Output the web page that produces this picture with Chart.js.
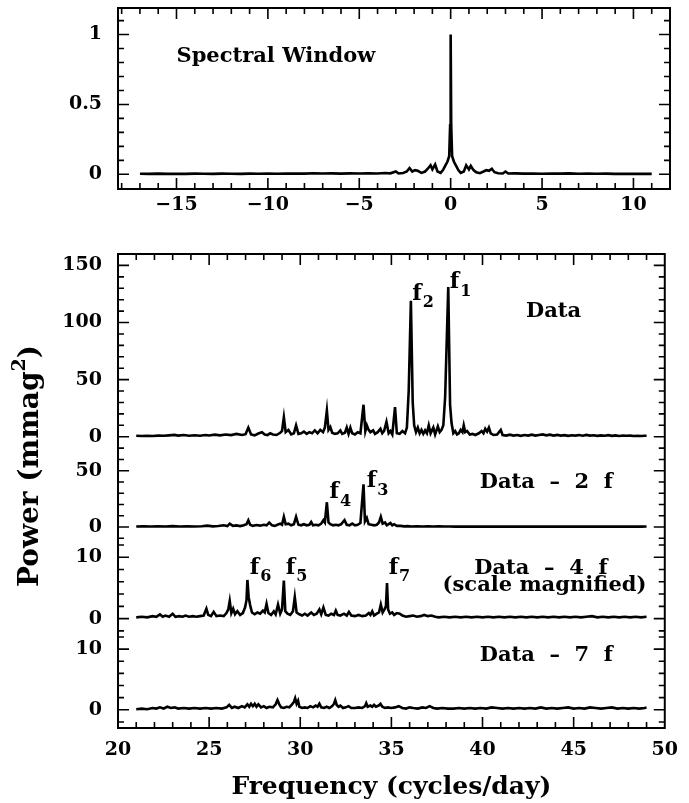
<!DOCTYPE html>
<html>
<head>
<meta charset="utf-8">
<script src="https://cdn.jsdelivr.net/npm/chart.js@4"></script>
<style>
  body { margin: 0; background: #fff; }
  #wrap { position: relative; width: 689px; height: 803px; }
  canvas { position: absolute; left: 0; }
</style>
</head>
<body>
<div id="wrap">
  <canvas id="windowChart" width="689" height="240" style="top:0"></canvas>
  <canvas id="powerChart" width="689" height="563" style="top:240px"></canvas>
</div>
<script>
// Spectral window, frequency (c/d) vs normalised power
const windowPoints = [
  [-17.0,0.004],[-16.5,0.003],[-16.0,0.005],[-15.5,0.003],[-15.0,0.004],[-14.5,0.003],[-14.0,0.005],
  [-13.5,0.004],[-13.0,0.003],[-12.5,0.005],[-12.0,0.004],[-11.5,0.003],[-11.0,0.005],[-10.5,0.004],
  [-10.0,0.006],[-9.5,0.004],[-9.0,0.005],[-8.5,0.006],[-8.0,0.005],[-7.5,0.008],[-7.0,0.006],
  [-6.5,0.007],[-6.0,0.005],[-5.5,0.007],[-5.0,0.006],[-4.5,0.008],[-4.0,0.006],[-3.6,0.009],
  [-3.3,0.007],[-3.0,0.02],[-2.85,0.006],[-2.6,0.01],[-2.4,0.02],[-2.25,0.045],[-2.1,0.02],
  [-1.95,0.03],[-1.8,0.025],[-1.6,0.01],[-1.4,0.02],[-1.25,0.04],[-1.1,0.065],[-1.0,0.035],
  [-0.85,0.07],[-0.72,0.02],[-0.55,0.01],[-0.42,0.03],[-0.3,0.06],[-0.18,0.09],[-0.08,0.13],
  [-0.03,0.35],[0.0,1.0],[0.03,0.35],[0.08,0.13],[0.18,0.09],[0.3,0.06],[0.42,0.03],[0.55,0.01],
  [0.72,0.02],[0.85,0.065],[1.0,0.035],[1.1,0.06],[1.25,0.03],[1.4,0.015],[1.6,0.008],[1.8,0.02],
  [1.95,0.03],[2.1,0.025],[2.25,0.04],[2.4,0.015],[2.6,0.008],[2.85,0.006],[3.0,0.02],[3.15,0.006],
  [3.5,0.007],[4.0,0.005],[4.5,0.006],[5.0,0.004],[5.5,0.006],[6.0,0.005],[6.5,0.007],[7.0,0.004],
  [7.5,0.005],[8.0,0.004],[8.5,0.005],[9.0,0.003],[9.5,0.004],[10.0,0.003],[10.5,0.004],[11.0,0.003]
];

// Amplitude spectra (mmag^2): original data, then after prewhitening 2, 4 and 7 frequencies
const dataPoints = [
  [21.0,0.8],[21.3,0.6],[21.6,0.9],[21.9,0.7],[22.2,1.0],[22.5,0.8],[22.8,1.2],[23.1,1.6],[23.3,1.0],
  [23.6,1.5],[23.9,0.9],[24.2,1.3],[24.5,0.8],[24.8,1.5],[25.0,1.1],[25.3,1.8],[25.6,1.2],[25.9,2.0],
  [26.2,1.4],[26.5,2.5],[26.8,1.5],[27.0,2.2],[27.15,8.0],[27.3,2.0],[27.5,1.2],[27.7,2.8],[27.9,4.0],
  [28.05,2.0],[28.2,1.5],[28.35,3.0],[28.5,2.0],[28.7,1.5],[28.9,3.5],[29.0,5.0],[29.1,17.0],[29.2,4.0],
  [29.35,6.0],[29.5,2.0],[29.65,3.0],[29.77,10.0],[29.9,2.5],[30.05,3.0],[30.2,4.5],[30.35,2.5],
  [30.5,4.0],[30.65,3.0],[30.8,5.5],[30.95,3.0],[31.1,6.0],[31.25,4.0],[31.35,8.0],[31.46,23.0],
  [31.55,6.0],[31.65,8.5],[31.75,3.5],[31.9,2.5],[32.05,3.0],[32.2,5.5],[32.3,2.5],[32.45,3.5],
  [32.55,8.0],[32.65,2.5],[32.75,8.0],[32.85,3.0],[33.0,2.0],[33.15,4.0],[33.3,3.0],[33.47,28.0],
  [33.57,5.0],[33.65,10.0],[33.75,6.0],[33.85,4.0],[34.0,5.5],[34.1,2.5],[34.25,4.0],[34.4,7.0],
  [34.5,3.0],[34.6,5.0],[34.73,13.0],[34.85,3.0],[34.95,5.0],[35.05,2.0],[35.2,26.0],[35.3,3.0],
  [35.45,2.5],[35.6,5.0],[35.75,3.0],[35.85,8.0],[35.95,40.0],[36.07,119.0],[36.17,30.0],[36.25,10.0],
  [36.35,4.0],[36.45,8.0],[36.55,3.0],[36.65,6.0],[36.75,2.5],[36.85,5.5],[36.95,3.0],[37.05,10.0],
  [37.15,3.0],[37.3,8.0],[37.4,2.0],[37.55,9.0],[37.65,4.0],[37.75,6.0],[37.85,10.0],[37.95,35.0],
  [38.12,131.0],[38.22,28.0],[38.3,12.0],[38.4,3.0],[38.5,5.0],[38.6,2.0],[38.7,3.0],[38.8,6.0],
  [38.9,4.0],[38.97,10.0],[39.05,4.0],[39.15,5.0],[39.3,2.0],[39.45,2.5],[39.6,1.5],[39.8,3.0],
  [39.95,5.0],[40.05,3.0],[40.15,7.0],[40.25,4.5],[40.35,8.0],[40.45,3.0],[40.6,1.5],[40.8,2.0],
  [41.0,6.0],[41.1,1.5],[41.3,1.0],[41.5,1.8],[41.7,1.0],[41.9,1.5],[42.1,0.8],[42.3,1.5],[42.5,1.0],
  [42.7,1.8],[42.9,1.0],[43.1,1.5],[43.3,2.0],[43.5,1.2],[43.7,1.8],[43.9,1.0],[44.1,1.6],[44.3,1.0],
  [44.5,1.4],[44.7,0.8],[44.9,1.3],[45.1,1.0],[45.3,1.5],[45.5,0.9],[45.7,1.6],[45.9,1.0],[46.1,1.3],
  [46.3,0.8],[46.5,1.2],[46.7,0.9],[46.9,1.4],[47.1,0.8],[47.3,1.2],[47.5,0.7],[47.7,1.1],[47.9,0.8],
  [48.1,1.0],[48.3,0.7],[48.5,0.9],[48.7,0.6],[48.9,0.9],[49.0,0.8]
];

const minus2fPoints = [
  [21.0,0.4],[21.4,0.6],[21.8,0.4],[22.2,0.7],[22.6,0.5],[23.0,0.8],[23.4,0.5],[23.8,0.7],[24.2,0.4],
  [24.6,0.6],[24.9,1.2],[25.2,0.6],[25.5,0.9],[25.8,1.5],[26.0,0.8],[26.13,3.0],[26.3,1.0],[26.5,1.4],
  [26.7,0.8],[26.9,1.5],[27.05,2.5],[27.15,6.0],[27.25,2.0],[27.4,1.0],[27.6,1.8],[27.8,1.2],[28.0,2.0],
  [28.15,1.5],[28.3,4.0],[28.45,1.5],[28.6,1.0],[28.75,2.0],[28.9,3.0],[29.0,2.0],[29.1,9.0],[29.2,2.5],
  [29.35,3.0],[29.5,1.5],[29.65,2.5],[29.77,9.0],[29.9,2.0],[30.05,1.5],[30.2,2.5],[30.35,1.5],
  [30.5,2.0],[30.6,4.5],[30.7,1.5],[30.85,2.0],[31.0,1.5],[31.15,3.0],[31.27,6.0],[31.35,4.0],
  [31.46,22.0],[31.55,4.0],[31.65,2.5],[31.8,1.5],[31.95,2.0],[32.1,1.5],[32.25,2.5],[32.43,6.0],
  [32.55,2.0],[32.7,1.5],[32.85,3.0],[33.0,1.5],[33.15,2.0],[33.3,3.5],[33.47,38.0],[33.55,5.0],
  [33.65,8.0],[33.75,2.5],[33.9,2.0],[34.05,1.5],[34.2,2.0],[34.32,4.0],[34.42,9.0],[34.52,3.0],
  [34.65,4.0],[34.75,1.5],[34.85,2.5],[34.95,3.5],[35.05,1.5],[35.15,2.5],[35.3,1.0],[35.5,1.0],
  [35.7,0.6],[35.9,0.8],[36.1,0.5],[36.4,0.7],[36.7,0.4],[37.0,0.6],[37.3,0.4],[37.6,0.6],[37.9,0.4],
  [38.2,0.5],[38.5,0.3],[38.8,0.5],[39.1,0.3],[39.4,0.5],[39.7,0.3],[40.0,0.4],[40.3,0.3],[40.6,0.5],
  [40.9,0.3],[41.2,0.4],[41.5,0.3],[41.8,0.4],[42.1,0.3],[42.4,0.5],[42.7,0.3],[43.0,0.4],[43.3,0.3],
  [43.6,0.4],[43.9,0.3],[44.2,0.4],[44.5,0.3],[44.8,0.4],[45.1,0.3],[45.4,0.4],[45.7,0.3],[46.0,0.4],
  [46.3,0.3],[46.6,0.4],[46.9,0.3],[47.2,0.4],[47.5,0.3],[47.8,0.4],[48.1,0.3],[48.4,0.4],[48.7,0.3],
  [49.0,0.4]
];

const minus4fPoints = [
  [21.0,0.2],[21.3,0.3],[21.6,0.2],[21.9,0.4],[22.1,0.3],[22.3,0.7],[22.45,0.3],[22.6,0.5],[22.8,0.3],
  [23.0,0.8],[23.15,0.3],[23.35,0.4],[23.55,0.3],[23.7,0.5],[23.9,0.3],[24.1,0.4],[24.3,0.3],[24.5,0.4],
  [24.7,0.5],[24.85,1.6],[24.95,0.6],[25.1,0.4],[25.25,1.1],[25.4,0.4],[25.6,0.5],[25.8,0.4],[25.95,0.9],
  [26.05,1.5],[26.13,2.9],[26.22,0.9],[26.32,1.6],[26.42,0.7],[26.55,1.2],[26.7,0.6],[26.85,0.9],
  [26.97,1.8],[27.05,3.0],[27.1,6.3],[27.17,3.5],[27.25,2.2],[27.35,1.0],[27.5,0.7],[27.65,1.0],
  [27.8,0.8],[27.95,1.3],[28.05,1.0],[28.15,2.4],[28.25,0.9],[28.4,0.6],[28.55,1.2],[28.65,0.7],
  [28.78,2.3],[28.9,0.8],[29.0,1.5],[29.1,6.2],[29.18,1.2],[29.3,0.8],[29.45,0.6],[29.6,1.2],[29.7,3.5],
  [29.8,1.0],[29.95,0.7],[30.1,0.5],[30.25,0.8],[30.4,0.5],[30.6,1.0],[30.75,0.6],[30.9,0.8],[31.05,1.5],
  [31.15,0.7],[31.27,1.8],[31.4,0.6],[31.55,0.5],[31.7,0.8],[31.85,0.6],[31.95,1.3],[32.05,0.6],
  [32.2,0.5],[32.4,0.8],[32.55,0.5],[32.67,1.1],[32.8,0.5],[33.0,0.4],[33.2,0.6],[33.4,0.4],[33.6,0.5],
  [33.76,0.9],[33.85,0.6],[33.95,1.2],[34.05,0.5],[34.2,0.8],[34.32,1.0],[34.42,2.3],[34.52,1.0],
  [34.62,1.5],[34.7,2.0],[34.76,5.8],[34.82,1.5],[34.92,0.8],[35.05,1.0],[35.15,0.6],[35.3,0.9],
  [35.46,0.8],[35.6,0.5],[35.8,0.3],[36.0,0.4],[36.2,0.5],[36.4,0.3],[36.6,0.4],[36.8,0.6],[37.0,0.4],
  [37.2,0.5],[37.4,0.3],[37.6,0.2],[37.9,0.3],[38.2,0.2],[38.5,0.3],[38.8,0.2],[39.1,0.3],[39.4,0.2],
  [39.7,0.3],[40.0,0.2],[40.3,0.3],[40.6,0.2],[40.9,0.3],[41.2,0.2],[41.5,0.3],[41.8,0.2],[42.1,0.3],
  [42.4,0.2],[42.7,0.3],[43.0,0.2],[43.3,0.3],[43.6,0.2],[43.9,0.3],[44.2,0.2],[44.5,0.3],[44.8,0.2],
  [45.1,0.3],[45.4,0.2],[45.7,0.3],[46.0,0.4],[46.3,0.2],[46.6,0.3],[46.9,0.2],[47.2,0.3],[47.5,0.2],
  [47.8,0.3],[48.1,0.2],[48.4,0.3],[48.7,0.2],[49.0,0.3]
];

const minus7fPoints = [
  [21.0,0.1],[21.3,0.2],[21.6,0.1],[21.9,0.3],[22.1,0.2],[22.3,0.4],[22.5,0.2],[22.7,0.5],[22.9,0.3],
  [23.1,0.4],[23.3,0.2],[23.6,0.3],[23.9,0.2],[24.2,0.3],[24.5,0.2],[24.8,0.3],[25.1,0.2],[25.4,0.3],
  [25.7,0.2],[25.95,0.4],[26.1,0.8],[26.25,0.3],[26.4,0.5],[26.6,0.3],[26.8,0.6],[26.95,0.4],[27.1,0.9],
  [27.2,0.5],[27.3,1.0],[27.4,0.6],[27.5,1.0],[27.6,0.5],[27.7,0.9],[27.85,0.4],[28.0,0.6],[28.15,0.3],
  [28.3,0.5],[28.5,0.4],[28.65,0.9],[28.75,1.6],[28.85,0.9],[28.95,0.4],[29.1,0.3],[29.25,0.5],
  [29.4,0.4],[29.55,0.9],[29.65,1.3],[29.72,1.9],[29.8,1.0],[29.88,1.5],[29.95,0.5],[30.1,0.3],
  [30.25,0.4],[30.4,0.3],[30.55,0.6],[30.7,0.4],[30.85,0.7],[30.95,0.5],[31.05,1.0],[31.15,0.4],
  [31.3,0.3],[31.45,0.5],[31.6,0.3],[31.75,0.6],[31.85,1.0],[31.92,1.6],[32.0,0.8],[32.1,0.5],
  [32.2,0.7],[32.35,0.3],[32.5,0.4],[32.65,0.6],[32.8,0.3],[33.0,0.3],[33.2,0.4],[33.4,0.3],[33.55,0.6],
  [33.62,1.1],[33.7,0.5],[33.85,0.7],[33.95,0.5],[34.05,0.8],[34.15,0.5],[34.3,0.7],[34.4,1.0],
  [34.5,0.5],[34.65,0.3],[34.8,0.4],[35.0,0.3],[35.2,0.4],[35.4,0.6],[35.6,0.3],[35.8,0.2],[36.0,0.4],
  [36.2,0.3],[36.45,0.2],[36.7,0.4],[36.9,0.3],[37.1,0.6],[37.3,0.3],[37.5,0.2],[37.8,0.3],[38.1,0.2],
  [38.4,0.2],[38.7,0.3],[39.0,0.2],[39.3,0.3],[39.6,0.2],[39.9,0.3],[40.2,0.2],[40.5,0.4],[40.8,0.3],
  [41.1,0.2],[41.4,0.3],[41.7,0.2],[42.0,0.3],[42.3,0.2],[42.6,0.3],[42.9,0.2],[43.2,0.4],[43.5,0.2],
  [43.8,0.3],[44.1,0.2],[44.4,0.3],[44.7,0.4],[45.0,0.2],[45.3,0.3],[45.6,0.2],[45.9,0.4],[46.2,0.3],
  [46.5,0.2],[46.8,0.3],[47.1,0.4],[47.4,0.2],[47.7,0.3],[48.0,0.2],[48.3,0.3],[48.6,0.2],[48.9,0.3],
  [49.0,0.4]
];

// tick labels
const windowXTicks = [-15, -10, -5, 0, 5, 10];
const windowYTicks = [0, 0.5, 1];
const freqTicks = [20, 25, 30, 35, 40, 45, 50];
const dataTicks = [0, 50, 100, 150];
const minus2fTicks = [0, 50];
const minus4fTicks = [0, 10];
const minus7fTicks = [0, 10];

const FONT = "'DejaVu Serif', serif";
const tickFont = { family: FONT, size: 19, weight: 'bold' };
const LEFT_W = 118;

const toXY = pts => pts.map(p => ({ x: p[0], y: p[1] }));
const fmt = v => String(v).replace('-', '\u2212');
const setTicks = list => axis => { axis.ticks = list.map(v => ({ value: v })); };

function lineSet(points, yAxisID) {
    return {
        data: toXY(points),
        yAxisID: yAxisID,
        borderColor: '#000',
        borderWidth: 2.6,
        pointRadius: 0,
        tension: 0,
        fill: false
    };
}

function yAxis(min, max, ticks, extra) {
    return Object.assign({
        type: 'linear',
        position: 'left',
        min: min,
        max: max,
        grid: { display: false, drawTicks: false },
        border: { display: false },
        ticks: { font: tickFont, color: '#000', padding: 16, callback: fmt },
        afterBuildTicks: setTicks(ticks),
        afterFit: s => {
            // fixed gutter, and no extra room for the end labels
            s.width = LEFT_W;
            s.paddingTop = 0;
            s.paddingBottom = 0;
        }
    }, extra || {});
}

function xAxis(min, max, ticks, height, pad) {
    return {
        type: 'linear',
        position: 'bottom',
        min: min,
        max: max,
        grid: { display: false, drawTicks: false },
        border: { display: false },
        ticks: { font: tickFont, color: '#000', padding: pad, maxRotation: 0, callback: fmt },
        afterBuildTicks: setTicks(ticks),
        afterFit: s => { s.height = height; }
    };
}

// box round the plot area with inward ticks on all four sides
function framePlugin(xSpec, ySpecs, labels, extra) {
    return {
        id: 'frame',
        afterDatasetsDraw(chart) {
            const ctx = chart.ctx;
            const a = chart.chartArea;
            ctx.save();
            ctx.strokeStyle = '#000';
            ctx.fillStyle = '#000';
            ctx.lineWidth = 2;
            ctx.strokeRect(a.left, a.top, a.right - a.left, a.bottom - a.top);

            const marks = (scale, spec, draw) => {
                const lo = Math.ceil(scale.min / spec.minor - 1e-6);
                const hi = Math.floor(scale.max / spec.minor + 1e-6);
                for (let k = lo; k <= hi; k++) {
                    const v = k * spec.minor;
                    const r = v / spec.major;
                    const major = Math.abs(r - Math.round(r)) < 1e-6;
                    const p = scale.getPixelForValue(v);
                    draw(p, major ? 11 : 6);
                }
            };

            ctx.lineWidth = 1.6;
            ctx.beginPath();
            const xs = chart.scales[xSpec.id];
            marks(xs, xSpec, (p, len) => {
                if (p <= a.left + 1 || p >= a.right - 1) return;
                ctx.moveTo(p, a.bottom); ctx.lineTo(p, a.bottom - len);
                ctx.moveTo(p, a.top); ctx.lineTo(p, a.top + len);
            });
            ySpecs.forEach(spec => {
                const ys = chart.scales[spec.id];
                marks(ys, spec, (p, len) => {
                    if (p <= a.top + 1 || p >= a.bottom - 1) return;
                    ctx.moveTo(a.left, p); ctx.lineTo(a.left + len, p);
                    ctx.moveTo(a.right, p); ctx.lineTo(a.right - len, p);
                });
            });
            ctx.stroke();

            // text inside the panels
            labels.forEach(lb => {
                const px = xs.getPixelForValue(lb.x);
                const py = chart.scales[lb.axis].getPixelForValue(lb.y);
                ctx.font = 'bold ' + (lb.size || 21) + 'px ' + FONT;
                ctx.textAlign = lb.align || 'center';
                ctx.textBaseline = 'middle';
                ctx.fillText(lb.text, px, py);
                if (lb.sub) {
                    const w = ctx.measureText(lb.text).width;
                    ctx.font = 'bold 16px ' + FONT;
                    ctx.textAlign = 'left';
                    ctx.fillText(lb.sub, px + w + 1, py + 9);
                }
            });

            if (extra) extra(chart, ctx);
            ctx.restore();
        }
    };
}

// Gráfico superior: ventana espectral
new Chart(document.getElementById('windowChart'), {
    type: 'line',
    data: { datasets: [lineSet(windowPoints, 'y')] },
    options: {
        responsive: false,
        animation: false,
        layout: { padding: { top: 8, right: 19, left: 0, bottom: 0 } },
        plugins: { legend: { display: false }, tooltip: { enabled: false } },
        scales: {
            x: xAxis(-18.2, 12, windowXTicks, 51, 5),
            y: yAxis(-0.105, 1.19, windowYTicks)
        }
    },
    plugins: [framePlugin(
        { id: 'x', minor: 1, major: 5 },
        [{ id: 'y', minor: 0.1, major: 0.5 }],
        [{ text: 'Spectral Window', x: -15, y: 0.84, axis: 'y', align: 'left' }]
    )]
});

// Gráfico inferior: espectros apilados con eje y propio cada uno
new Chart(document.getElementById('powerChart'), {
    type: 'line',
    data: {
        datasets: [
            lineSet(dataPoints, 'yData'),
            lineSet(minus2fPoints, 'y2f'),
            lineSet(minus4fPoints, 'y4f'),
            lineSet(minus7fPoints, 'y7f')
        ]
    },
    options: {
        responsive: false,
        animation: false,
        layout: { padding: { top: 14, right: 19, left: 0, bottom: 0 } },
        plugins: { legend: { display: false }, tooltip: { enabled: false } },
        scales: {
            x: xAxis(20, 50, freqTicks, 75, 11),
            // last one defined ends up on top of the stack
            y7f: yAxis(-3, 12, minus7fTicks, { stack: 'power', stackWeight: 91 }),
            y4f: yAxis(-3, 12, minus4fTicks, { stack: 'power', stackWeight: 92 }),
            y2f: yAxis(-16, 64, minus2fTicks, { stack: 'power', stackWeight: 90 }),
            yData: yAxis(-16, 160, dataTicks, { stack: 'power', stackWeight: 201 })
        }
    },
    plugins: [framePlugin(
        { id: 'x', minor: 1, major: 5 },
        [
            { id: 'yData', minor: 10, major: 50 },
            { id: 'y2f', minor: 10, major: 50 },
            { id: 'y4f', minor: 2, major: 10 },
            { id: 'y7f', minor: 2, major: 10 }
        ],
        [
            { text: 'Data', x: 43.9, y: 110, axis: 'yData' },
            { text: 'f', sub: '2', x: 36.15, y: 125, axis: 'yData', align: 'left', size: 22 },
            { text: 'f', sub: '1', x: 38.2, y: 135, axis: 'yData', align: 'left', size: 22 },
            { text: 'Data  \u2013  2  f', x: 43.5, y: 39.6, axis: 'y2f' },
            { text: 'f', sub: '4', x: 31.6, y: 30.7, axis: 'y2f', align: 'left', size: 22 },
            { text: 'f', sub: '3', x: 33.65, y: 40.5, axis: 'y2f', align: 'left', size: 22 },
            { text: 'Data  \u2013  4  f', x: 43.2, y: 8.2, axis: 'y4f' },
            { text: '(scale magnified)', x: 43.4, y: 5.4, axis: 'y4f' },
            { text: 'f', sub: '6', x: 27.23, y: 8.2, axis: 'y4f', align: 'left', size: 22 },
            { text: 'f', sub: '5', x: 29.2, y: 8.2, axis: 'y4f', align: 'left', size: 22 },
            { text: 'f', sub: '7', x: 34.85, y: 8.2, axis: 'y4f', align: 'left', size: 22 },
            { text: 'Data  \u2013  7  f', x: 43.5, y: 9, axis: 'y7f' }
        ],
        (chart, ctx) => {
            const a = chart.chartArea;
            // x title
            ctx.font = 'bold 25px ' + FONT;
            ctx.textAlign = 'center';
            ctx.textBaseline = 'middle';
            ctx.fillText('Frequency (cycles/day)', (a.left + a.right) / 2, 547);
            // y title with superscript, rotated
            ctx.translate(31, 226);
            ctx.rotate(-Math.PI / 2);
            const big = 'bold 28px ' + FONT, small = 'bold 19px ' + FONT;
            ctx.font = big;
            const w1 = ctx.measureText('Power (mmag').width;
            const w3 = ctx.measureText(')').width;
            ctx.font = small;
            const w2 = ctx.measureText('2').width;
            const x0 = -(w1 + w2 + w3) / 2;
            ctx.textAlign = 'left';
            ctx.font = big;
            ctx.fillText('Power (mmag', x0, 0);
            ctx.font = small;
            ctx.fillText('2', x0 + w1, -11);
            ctx.font = big;
            ctx.fillText(')', x0 + w1 + w2, 0);
        }
    )]
});
</script>
</body>
</html>
